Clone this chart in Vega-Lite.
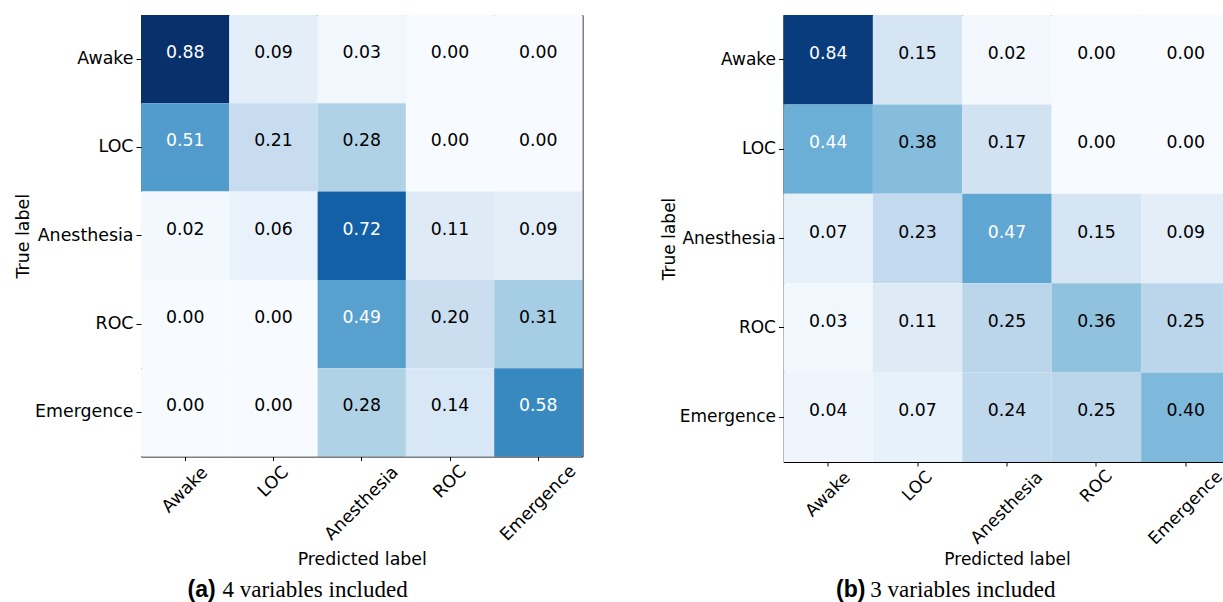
{
  "$schema": "https://vega.github.io/schema/vega-lite/v6.json",
  "padding": {"left": 13, "top": 14, "right": 0, "bottom": 0},
  "bounds": "flush",
  "spacing": 200.5,
  "background": "white",
  "config": {
    "view": {"stroke": "black", "strokeWidth": 1},
    "font": "DejaVu Sans",
    "axis": {
      "labelFont": "DejaVu Sans", "labelFontSize": 17, "labelColor": "black",
      "titleFont": "DejaVu Sans", "titleFontSize": 17, "titleFontWeight": "normal", "titleColor": "black",
      "tickColor": "black", "tickWidth": 1, "domain": false, "grid": false
    }
  },
  "datasets": {
    "a": [
      {"t": "Awake", "p": "Awake", "v": 0.88}, {"t": "Awake", "p": "LOC", "v": 0.09}, {"t": "Awake", "p": "Anesthesia", "v": 0.03}, {"t": "Awake", "p": "ROC", "v": 0.00}, {"t": "Awake", "p": "Emergence", "v": 0.00},
      {"t": "LOC", "p": "Awake", "v": 0.51}, {"t": "LOC", "p": "LOC", "v": 0.21}, {"t": "LOC", "p": "Anesthesia", "v": 0.28}, {"t": "LOC", "p": "ROC", "v": 0.00}, {"t": "LOC", "p": "Emergence", "v": 0.00},
      {"t": "Anesthesia", "p": "Awake", "v": 0.02}, {"t": "Anesthesia", "p": "LOC", "v": 0.06}, {"t": "Anesthesia", "p": "Anesthesia", "v": 0.72}, {"t": "Anesthesia", "p": "ROC", "v": 0.11}, {"t": "Anesthesia", "p": "Emergence", "v": 0.09},
      {"t": "ROC", "p": "Awake", "v": 0.00}, {"t": "ROC", "p": "LOC", "v": 0.00}, {"t": "ROC", "p": "Anesthesia", "v": 0.49}, {"t": "ROC", "p": "ROC", "v": 0.20}, {"t": "ROC", "p": "Emergence", "v": 0.31},
      {"t": "Emergence", "p": "Awake", "v": 0.00}, {"t": "Emergence", "p": "LOC", "v": 0.00}, {"t": "Emergence", "p": "Anesthesia", "v": 0.28}, {"t": "Emergence", "p": "ROC", "v": 0.14}, {"t": "Emergence", "p": "Emergence", "v": 0.58}
    ],
    "b": [
      {"t": "Awake", "p": "Awake", "v": 0.84}, {"t": "Awake", "p": "LOC", "v": 0.15}, {"t": "Awake", "p": "Anesthesia", "v": 0.02}, {"t": "Awake", "p": "ROC", "v": 0.00}, {"t": "Awake", "p": "Emergence", "v": 0.00},
      {"t": "LOC", "p": "Awake", "v": 0.44}, {"t": "LOC", "p": "LOC", "v": 0.38}, {"t": "LOC", "p": "Anesthesia", "v": 0.17}, {"t": "LOC", "p": "ROC", "v": 0.00}, {"t": "LOC", "p": "Emergence", "v": 0.00},
      {"t": "Anesthesia", "p": "Awake", "v": 0.07}, {"t": "Anesthesia", "p": "LOC", "v": 0.23}, {"t": "Anesthesia", "p": "Anesthesia", "v": 0.47}, {"t": "Anesthesia", "p": "ROC", "v": 0.15}, {"t": "Anesthesia", "p": "Emergence", "v": 0.09},
      {"t": "ROC", "p": "Awake", "v": 0.03}, {"t": "ROC", "p": "LOC", "v": 0.11}, {"t": "ROC", "p": "Anesthesia", "v": 0.25}, {"t": "ROC", "p": "ROC", "v": 0.36}, {"t": "ROC", "p": "Emergence", "v": 0.25},
      {"t": "Emergence", "p": "Awake", "v": 0.04}, {"t": "Emergence", "p": "LOC", "v": 0.07}, {"t": "Emergence", "p": "Anesthesia", "v": 0.24}, {"t": "Emergence", "p": "ROC", "v": 0.25}, {"t": "Emergence", "p": "Emergence", "v": 0.40}
    ]
  },
  "hconcat": [
    {
      "width": 441.5, "height": 441.5,
      "data": {"name": "a"},
      "layer": [
        {
          "mark": "rect",
          "encoding": {
            "x": {"field": "p", "type": "nominal", "sort": ["Awake", "LOC", "Anesthesia", "ROC", "Emergence"],
              "axis": {"orient": "bottom", "title": "Predicted label", "labelAngle": -45, "labelAlign": "center", "labelBaseline": "middle", "tickSize": 4, "labelFontSize": 17.4, "titleFontSize": 17.4,
                "labelPadding": {"condition": [{"test": "datum.value === 'Awake'", "value": 29}, {"test": "datum.value === 'LOC'", "value": 21}, {"test": "datum.value === 'ROC'", "value": 21}], "value": 42.5},
                "titleX": 220.75, "titleY": 107.5, "titleAlign": "center", "titleBaseline": "alphabetic"}},
            "y": {"field": "t", "type": "nominal", "sort": ["Awake", "LOC", "Anesthesia", "ROC", "Emergence"],
              "axis": {"orient": "left", "title": "True label", "tickSize": 5, "labelPadding": 3, "labelFontSize": 17.4, "titleFontSize": 17.4,
                "titleX": -112.7, "titleY": 220.75, "titleAngle": -90, "titleAlign": "center", "titleBaseline": "alphabetic"}},
            "color": {"field": "v", "type": "quantitative", "legend": null,
              "scale": {"domain": [0, 0.11, 0.22, 0.33, 0.44, 0.55, 0.66, 0.77, 0.88],
                "range": ["#f7fbff", "#deebf7", "#c6dbef", "#9ecae1", "#6baed6", "#4292c6", "#2171b5", "#08519c", "#08306b"], "interpolate": "rgb"}}
          }
        },
        {
          "mark": {"type": "text", "font": "DejaVu Sans", "fontSize": 17.3, "dy": -6, "align": "center", "baseline": "middle"},
          "encoding": {
            "x": {"field": "p", "type": "nominal", "sort": ["Awake", "LOC", "Anesthesia", "ROC", "Emergence"],
              "axis": {"orient": "top", "title": "(a)", "labels": false, "ticks": false, "domain": false,
                "titleX": 46, "titleY": 581.7, "titleAngle": 0, "titleAlign": "left", "titleBaseline": "alphabetic",
                "titleFont": "Liberation Sans", "titleFontWeight": "bold", "titleFontSize": 23}},
            "y": {"field": "t", "type": "nominal", "sort": ["Awake", "LOC", "Anesthesia", "ROC", "Emergence"],
              "axis": {"orient": "right", "title": "4 variables included", "labels": false, "ticks": false, "domain": false,
                "titleX": -360.5, "titleY": 581.7, "titleAngle": 0, "titleAlign": "left", "titleBaseline": "alphabetic",
                "titleFont": "Liberation Serif", "titleFontSize": 23}},
            "text": {"field": "v", "type": "quantitative", "format": ".2f"},
            "color": {"condition": {"test": "datum.v > 0.44", "value": "white"}, "value": "black"}
          }
        }
      ],
      "resolve": {"axis": {"x": "independent", "y": "independent"}}
    },
    {
      "width": 447, "height": 447,
      "data": {"name": "b"},
      "layer": [
        {
          "mark": "rect",
          "encoding": {
            "x": {"field": "p", "type": "nominal", "sort": ["Awake", "LOC", "Anesthesia", "ROC", "Emergence"],
              "axis": {"orient": "bottom", "title": "Predicted label", "labelAngle": -45, "labelAlign": "center", "labelBaseline": "middle", "tickSize": 4,
                "labelPadding": {"condition": [{"test": "datum.value === 'Awake'", "value": 28}, {"test": "datum.value === 'LOC'", "value": 20}, {"test": "datum.value === 'ROC'", "value": 20}], "value": 41.5},
                "titleX": 223.5, "titleY": 102, "titleAlign": "center", "titleBaseline": "alphabetic"}},
            "y": {"field": "t", "type": "nominal", "sort": ["Awake", "LOC", "Anesthesia", "ROC", "Emergence"],
              "axis": {"orient": "left", "title": "True label", "tickSize": 5, "labelPadding": 3,
                "titleX": -109, "titleY": 223.5, "titleAngle": -90, "titleAlign": "center", "titleBaseline": "alphabetic"}},
            "color": {"field": "v", "type": "quantitative", "legend": null,
              "scale": {"domain": [0, 0.105, 0.21, 0.315, 0.42, 0.525, 0.63, 0.735, 0.84],
                "range": ["#f7fbff", "#deebf7", "#c6dbef", "#9ecae1", "#6baed6", "#4292c6", "#2171b5", "#08519c", "#08306b"], "interpolate": "rgb"}}
          }
        },
        {
          "mark": {"type": "text", "font": "DejaVu Sans", "fontSize": 17.3, "dy": -6, "align": "center", "baseline": "middle"},
          "encoding": {
            "x": {"field": "p", "type": "nominal", "sort": ["Awake", "LOC", "Anesthesia", "ROC", "Emergence"],
              "axis": {"orient": "top", "title": "(b)", "labels": false, "ticks": false, "domain": false,
                "titleX": 52, "titleY": 581.7, "titleAngle": 0, "titleAlign": "left", "titleBaseline": "alphabetic",
                "titleFont": "Liberation Sans", "titleFontWeight": "bold", "titleFontSize": 23}},
            "y": {"field": "t", "type": "nominal", "sort": ["Awake", "LOC", "Anesthesia", "ROC", "Emergence"],
              "axis": {"orient": "right", "title": "3 variables included", "labels": false, "ticks": false, "domain": false,
                "titleX": -360.7, "titleY": 581.7, "titleAngle": 0, "titleAlign": "left", "titleBaseline": "alphabetic",
                "titleFont": "Liberation Serif", "titleFontSize": 23}},
            "text": {"field": "v", "type": "quantitative", "format": ".2f"},
            "color": {"condition": {"test": "datum.v > 0.42", "value": "white"}, "value": "black"}
          }
        }
      ],
      "resolve": {"axis": {"x": "independent", "y": "independent"}}
    }
  ]
}
